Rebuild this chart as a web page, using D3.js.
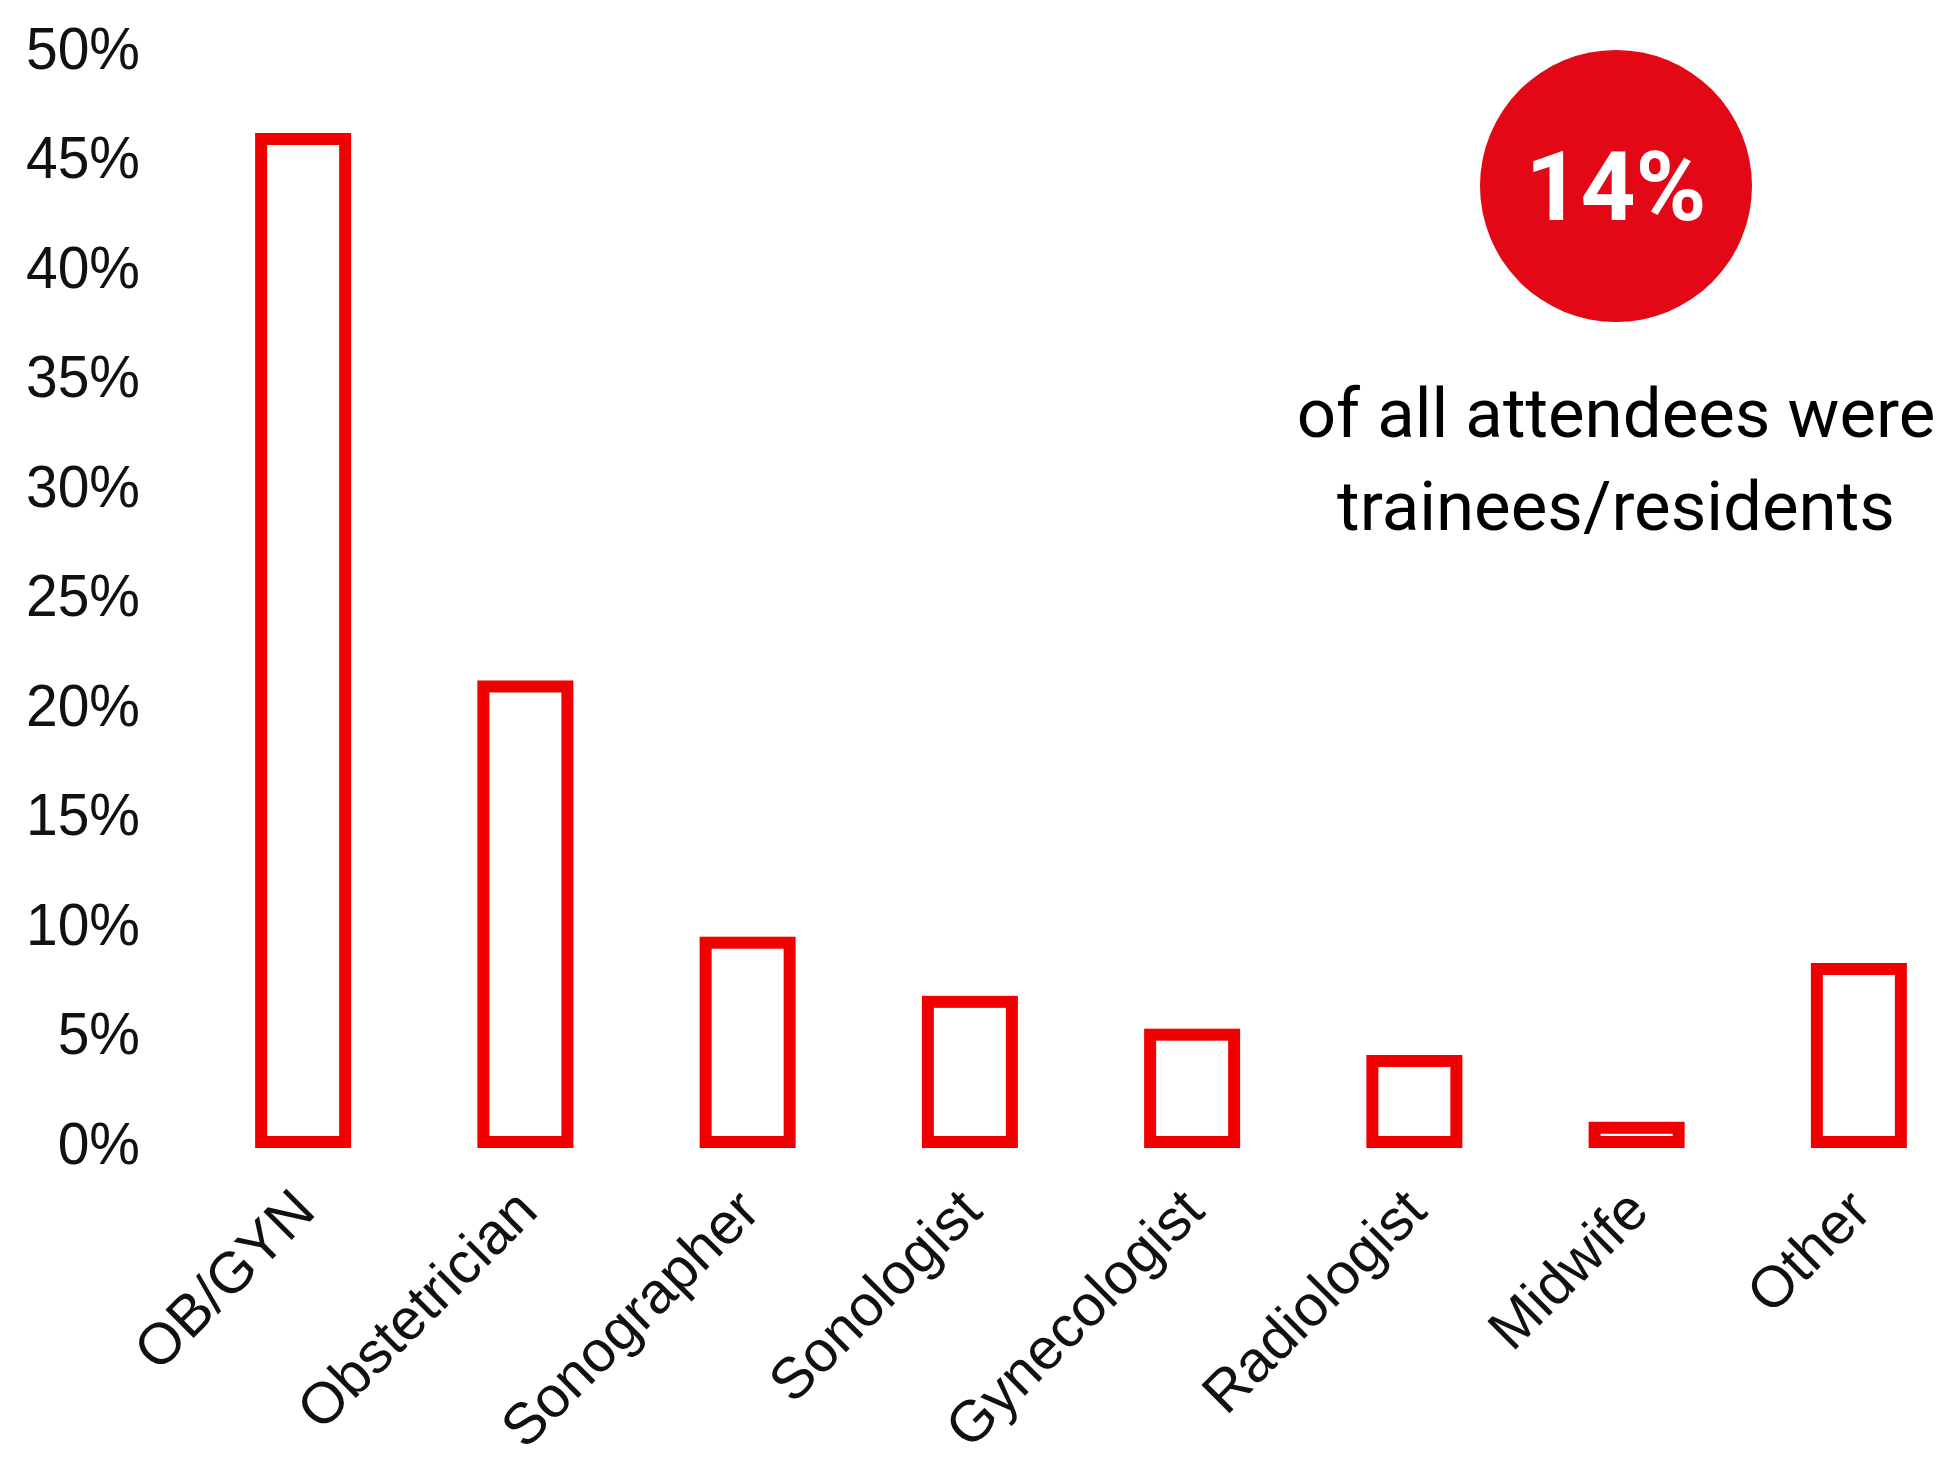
<!DOCTYPE html>
<html>
<head>
<meta charset="utf-8">
<script src="https://cdn.jsdelivr.net/npm/d3@7"></script>
<style>
    body { margin: 0; background: #fff; }
    svg { display: block; }
</style>
</head>
<body>
<svg id="chart" width="1940" height="1459"></svg>
<script>
const categories = ['OB/GYN', 'Obstetrician', 'Sonographer', 'Sonologist', 'Gynecologist', 'Radiologist', 'Midwife', 'Other'];
const shares = [45.8, 20.8, 9.1, 6.4, 4.9, 3.7, 0.65, 7.9];
const yTicks = [0, 5, 10, 15, 20, 25, 30, 35, 40, 45, 50];
const calloutValue = '14%';
const calloutLines = ['of all attendees were', 'trainees/residents'];

const svg = d3.select('#chart');

const x = d3.scaleBand()
            .domain(categories)
            .range([192, 1970])
            .paddingInner(0);

const y = d3.scaleLinear()
            .domain([0, 50])
            .range([1142, 47]);

const barW = 84;

// y axis, only labels
const yAxis = d3.axisLeft(y)
                .tickValues(yTicks)
                .tickFormat(d => d + '%')
                .tickSize(0)
                .tickPadding(0);

const yG = svg.append('g')
            .attr('transform', 'translate(140,0)')
            .call(yAxis);
yG.select('.domain').remove();
yG.selectAll('text')
    .attr('font-family', '"Liberation Sans", Arial, sans-serif')
    .attr('font-size', 60)
    .attr('fill', '#111')
    .attr('dy', '0.35em')
    .attr('transform', 'scale(0.95,1)');

// bars, outlined only
svg.append('g')
    .selectAll('rect')
    .data(shares)
    .enter()
    .append('rect')
    .attr('x', (d, i) => x(categories[i]) + (x.bandwidth() - barW) / 2)
    .attr('y', d => y(d))
    .attr('width', barW)
    .attr('height', d => y(0) - y(d))
    .attr('fill', 'none')
    .attr('stroke', '#f00000')
    .attr('stroke-width', 12);

// x axis, rotated labels
const xAxis = d3.axisBottom(x).tickSize(0).tickPadding(0);
const xG = svg.append('g')
            .attr('transform', 'translate(0,1185)')
            .call(xAxis);
xG.select('.domain').remove();
xG.selectAll('text')
    .attr('font-family', '"Liberation Sans", Arial, sans-serif')
    .attr('font-size', 58)
    .attr('fill', '#111')
    .attr('text-anchor', 'end')
    .attr('dy', '0.7em')
    .attr('transform', 'translate(-14,0) rotate(-45)');

// callout
const cx = 1616, cy = 186;
svg.append('circle')
    .attr('cx', cx)
    .attr('cy', cy)
    .attr('r', 136)
    .attr('fill', '#e20816');

svg.append('text')
    .attr('x', cx)
    .attr('y', cy + 34)
    .attr('text-anchor', 'middle')
    .attr('font-family', 'Roboto, sans-serif')
    .attr('font-weight', 700)
    .attr('font-size', 96)
    .attr('fill', '#fff')
    .text(calloutValue);

svg.append('g')
    .selectAll('text')
    .data(calloutLines)
    .enter()
    .append('text')
    .attr('x', cx)
    .attr('y', (d, i) => 437 + i * 93)
    .attr('text-anchor', 'middle')
    .attr('font-family', 'Roboto, sans-serif')
    .attr('font-size', 69)
    .attr('fill', '#000')
    .text(d => d);
</script>
</body>
</html>
